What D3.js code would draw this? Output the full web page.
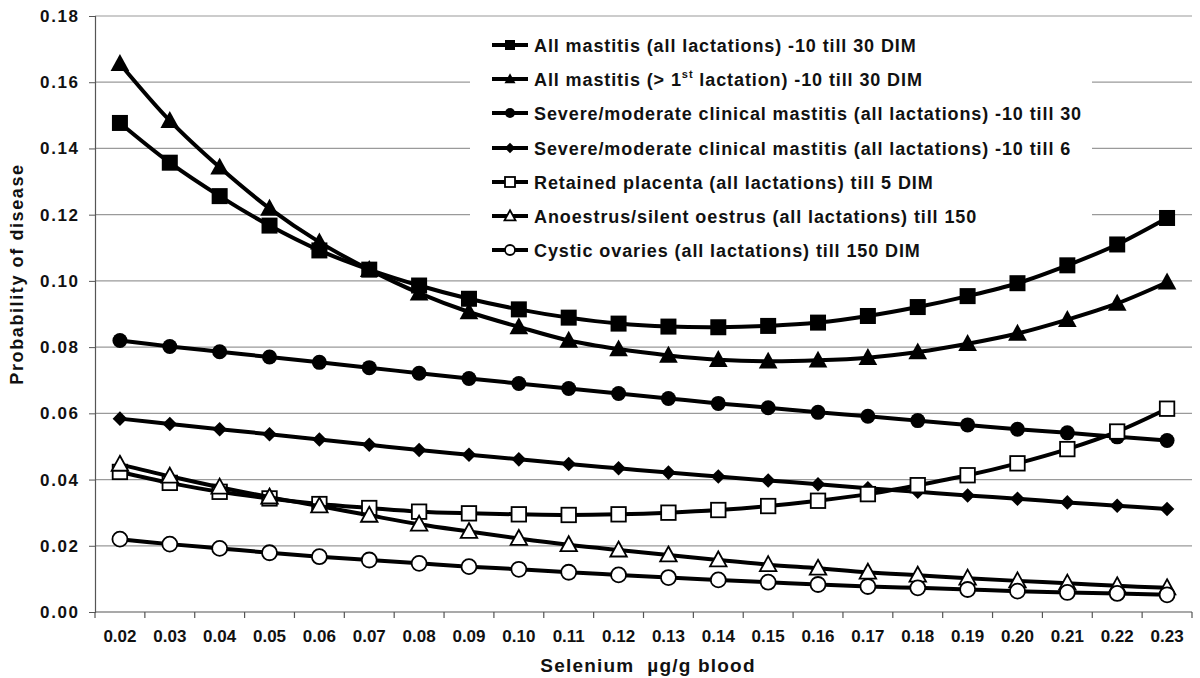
<!DOCTYPE html>
<html><head><meta charset="utf-8">
<script src="https://cdn.jsdelivr.net/npm/d3@7"></script>
<style>
body{margin:0;background:#fff;}
svg{display:block;font-family:"Liberation Sans",Arial,sans-serif;font-weight:bold;}
</style></head>
<body><svg id="chart" width="1200" height="678"></svg>
<script>
const categories = ["0.02","0.03","0.04","0.05","0.06","0.07","0.08","0.09","0.10","0.11","0.12","0.13","0.14","0.15","0.16","0.17","0.18","0.19","0.20","0.21","0.22","0.23"];
const yTicks = [0,0.02,0.04,0.06,0.08,0.10,0.12,0.14,0.16,0.18];
const seriesNames = [
  "All mastitis (all lactations) -10 till 30 DIM",
  "All mastitis (> 1st lactation) -10 till 30 DIM",
  "Severe/moderate clinical mastitis (all lactations) -10 till 30",
  "Severe/moderate clinical mastitis (all lactations) -10 till 6",
  "Retained placenta (all lactations) till 5 DIM",
  "Anoestrus/silent oestrus (all lactations) till 150",
  "Cystic ovaries (all lactations) till 150 DIM"
];
const allMastitis = [0.1477,0.1357,0.1256,0.1167,0.1092,0.1034,0.0986,0.0946,0.0914,0.0889,0.0871,0.0862,0.0860,0.0864,0.0874,0.0894,0.0921,0.0954,0.0993,0.1047,0.1110,0.1190];
const allMastitisGt1 = [0.1656,0.1484,0.1343,0.1219,0.1117,0.1034,0.0963,0.0906,0.0861,0.0820,0.0794,0.0775,0.0762,0.0757,0.0760,0.0768,0.0785,0.0810,0.0841,0.0883,0.0932,0.0996];
const severe30 = [0.0820,0.0802,0.0786,0.0770,0.0754,0.0738,0.0721,0.0705,0.0690,0.0675,0.0660,0.0645,0.0630,0.0617,0.0603,0.0591,0.0578,0.0565,0.0552,0.0541,0.0529,0.0518];
const severe6 = [0.0584,0.0568,0.0552,0.0537,0.0521,0.0505,0.0489,0.0475,0.0461,0.0447,0.0434,0.0421,0.0409,0.0397,0.0386,0.0374,0.0363,0.0352,0.0342,0.0331,0.0321,0.0311];
const retainedPlacenta = [0.0423,0.0390,0.0363,0.0343,0.0326,0.0314,0.0303,0.0298,0.0295,0.0293,0.0295,0.0300,0.0308,0.0320,0.0336,0.0356,0.0383,0.0413,0.0449,0.0492,0.0545,0.0614];
const anoestrus = [0.0446,0.0410,0.0377,0.0347,0.0320,0.0292,0.0265,0.0243,0.0222,0.0203,0.0187,0.0172,0.0157,0.0143,0.0132,0.0120,0.0111,0.0102,0.0094,0.0087,0.0079,0.0073];
const cysticOvaries = [0.0220,0.0205,0.0192,0.0179,0.0167,0.0157,0.0147,0.0137,0.0129,0.0120,0.0112,0.0104,0.0097,0.0090,0.0083,0.0077,0.0073,0.0068,0.0063,0.0059,0.0056,0.0052];

const seriesValues = [allMastitis, allMastitisGt1, severe30, severe6, retainedPlacenta, anoestrus, cysticOvaries];
const markerTypes = ["square","triangle","circle","diamond","square","triangle","circle"];
const markerFilled = [true,true,true,true,false,false,false];

const svg = d3.select("#chart");
const x = d3.scaleBand().domain(categories).range([95, 1192]);
const y = d3.scaleLinear().domain([0, 0.18]).range([612, 16]);
const cx = c => x(c) + x.bandwidth()/2;

// gridlines
svg.append("g").selectAll("line").data(yTicks.filter(d => d > 0)).join("line")
  .attr("x1", 95).attr("x2", 1192)
  .attr("y1", d => y(d)).attr("y2", d => y(d))
  .attr("stroke", "#9a9a9a").attr("stroke-width", 1.2);

// legend background (covers gridlines only)
svg.append("rect").attr("x", 470).attr("y", 24).attr("width", 622).attr("height", 244).attr("fill", "#fff");

// y axis
const yAxis = svg.append("g").attr("transform", "translate(95,0)")
  .call(d3.axisLeft(y).tickValues(yTicks).tickSize(6).tickPadding(11).tickFormat(d3.format(".2f")));
yAxis.select(".domain").attr("stroke", "#555").attr("stroke-width", 1.2);
yAxis.selectAll(".tick line").attr("stroke", "#555");
yAxis.selectAll("text").attr("font-size", 17).attr("font-weight", "bold")
  .attr("font-family", '"Liberation Sans",Arial,sans-serif').attr("fill", "#111")
  .style("letter-spacing", "1.6px").attr("dx", "1.6px");

// x axis
const xAxis = svg.append("g").attr("transform", "translate(0,612)")
  .call(d3.axisBottom(x).tickSize(0).tickPadding(18));
xAxis.select(".domain").attr("stroke", "#555").attr("stroke-width", 1.2).attr("d", "M95,0H1192");
xAxis.selectAll("text").attr("font-size", 17).attr("font-weight", "bold")
  .attr("font-family", '"Liberation Sans",Arial,sans-serif').attr("fill", "#111");
svg.append("g").selectAll("line").data(categories.concat(["end"])).join("line")
  .attr("x1", d => d === "end" ? 1192 : x(d)).attr("x2", d => d === "end" ? 1192 : x(d))
  .attr("y1", 612).attr("y2", 618).attr("stroke", "#555").attr("stroke-width", 1.2);

// axis titles
svg.append("text").attr("x", 648).attr("y", 672).attr("text-anchor", "middle")
  .attr("font-size", 19).attr("fill", "#111").style("white-space", "pre").style("letter-spacing", "1.2px")
  .text("Selenium  µg/g blood");
svg.append("text").attr("transform", "translate(23,274) rotate(-90)").attr("text-anchor", "middle")
  .attr("font-size", 18).attr("fill", "#111").style("letter-spacing", "1.6px")
  .text("Probability of disease");

// marker drawing
function drawMarker(g, type, filled, size) {
  const fill = filled ? "#000" : "#fff";
  const sw = filled ? 0 : 1.8;
  const s = size;
  if (type === "square") {
    g.append("rect").attr("x", -s/2).attr("y", -s/2).attr("width", s).attr("height", s)
      .attr("fill", fill).attr("stroke", "#000").attr("stroke-width", sw);
  } else if (type === "triangle") {
    const h = s * 0.95;
    g.append("path").attr("d", `M0,${-h*0.6}L${s*0.55},${h*0.45}L${-s*0.55},${h*0.45}Z`)
      .attr("fill", fill).attr("stroke", "#000").attr("stroke-width", sw).attr("stroke-linejoin", "miter");
  } else if (type === "circle") {
    g.append("circle").attr("r", s/2).attr("fill", fill).attr("stroke", "#000").attr("stroke-width", sw);
  } else if (type === "diamond") {
    const r = s * 0.52;
    g.append("path").attr("d", `M0,${-r}L${r},0L0,${r}L${-r},0Z`)
      .attr("fill", fill).attr("stroke", "#000").attr("stroke-width", sw);
  }
}

const line = d3.line().x((d, i) => cx(categories[i])).y(d => y(d)).curve(d3.curveCatmullRom.alpha(0.5));
const markerSizes = [16, 17, 15, 14, 14.5, 15, 15];

seriesValues.forEach((vals, si) => {
  const g = svg.append("g");
  g.append("path").datum(vals).attr("d", line).attr("fill", "none")
    .attr("stroke", "#000").attr("stroke-width", 4).attr("stroke-linejoin", "round");
  vals.forEach((v, i) => {
    const mg = g.append("g").attr("transform", `translate(${cx(categories[i])},${y(v)})`);
    drawMarker(mg, markerTypes[si], markerFilled[si], markerSizes[si]);
  });
});

// legend
const legend = svg.append("g");
const rowY = [45, 79, 113, 148, 182, 216, 250];
seriesNames.forEach((name, i) => {
  const row = legend.append("g").attr("transform", `translate(0,${rowY[i]})`);
  row.append("line").attr("x1", 492).attr("x2", 528).attr("y1", 0).attr("y2", 0)
    .attr("stroke", "#000").attr("stroke-width", 4);
  const mg = row.append("g").attr("transform", "translate(510,0)");
  drawMarker(mg, markerTypes[i], markerFilled[i], 10);
  const t = row.append("text").attr("x", 534).attr("y", 6.5).attr("font-size", 18).attr("fill", "#111")
    .style("letter-spacing", "0.9px");
  if (i === 1) {
    t.append("tspan").text("All mastitis (> 1");
    t.append("tspan").attr("dy", -8).attr("font-size", 11).text("st");
    t.append("tspan").attr("dy", 8).text(" lactation) -10 till 30 DIM");
  } else {
    t.text(name);
  }
});
</script>
</body></html>
